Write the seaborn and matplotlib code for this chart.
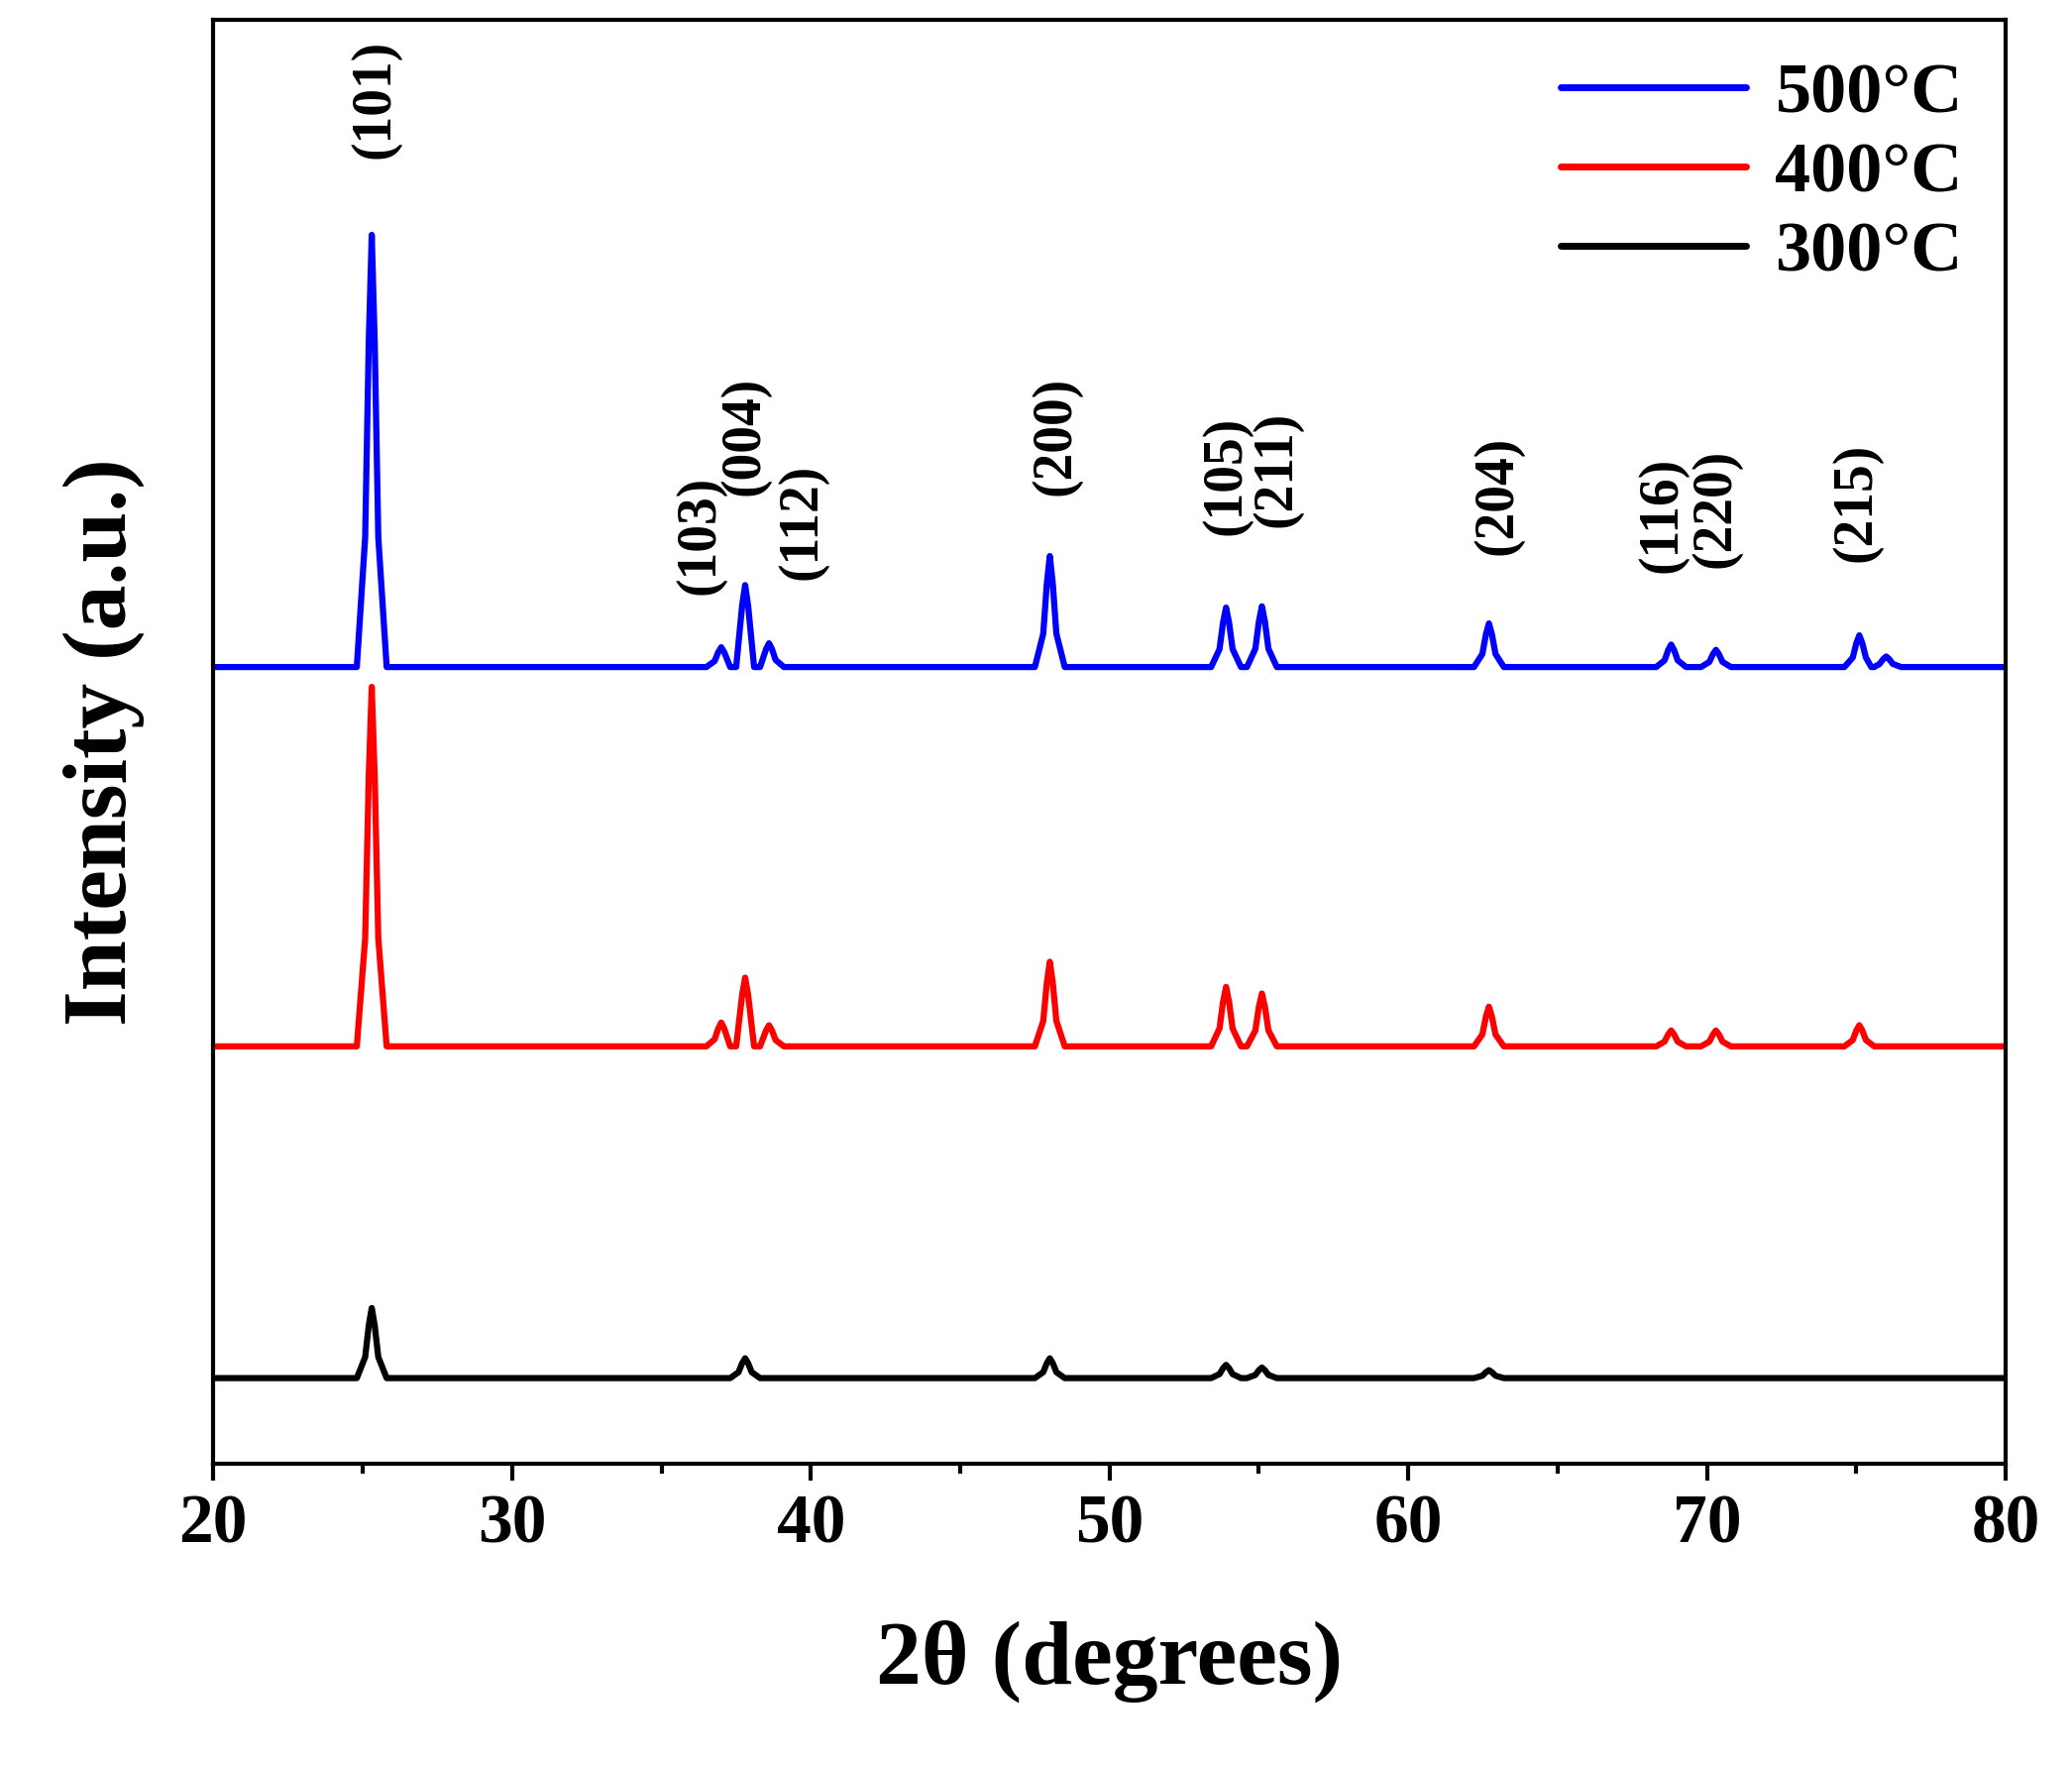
import matplotlib
matplotlib.use("Agg")
import matplotlib.pyplot as plt
import seaborn as sns
import pandas as pd

# peak positions (2theta) and heights above baseline for each sample
peaks_500 = [25.3, 37.0, 37.8, 38.6, 48.0, 53.9, 55.1, 62.7, 68.8, 70.3, 75.1, 76.0]
heights_500 = [327, 15, 62, 18, 84, 45, 46, 33, 17, 13, 24, 8]
base_500 = 603
peaks_400 = [25.3, 37.0, 37.8, 38.6, 48.0, 53.9, 55.1, 62.7, 68.8, 70.3, 75.1]
heights_400 = [272, 18, 52, 16, 64, 45, 40, 30, 12, 12, 16]
base_400 = 316
peaks_300 = [25.3, 37.8, 48.0, 53.9, 55.1, 62.7]
heights_300 = [53, 15, 15, 10, 8, 6]
base_300 = 65

labels = ["(101)", "(103)", "(004)", "(112)", "(200)", "(105)", "(211)", "(204)", "(116)", "(220)", "(215)"]
label_x = [25.4, 36.3, 37.8, 39.7, 48.2, 53.9, 55.6, 63.0, 68.5, 70.3, 75.0]
label_y = [1033, 703, 778, 713, 778, 748, 753, 733, 718, 723, 728]

def profile(peaks, heights, base):
    pts = [(20.0, base)]
    offs = [(-0.5, 0.0), (-0.22, 0.3), (-0.1, 0.75), (0.0, 1.0), (0.1, 0.75), (0.22, 0.3), (0.5, 0.0)]
    for p, h in zip(peaks, heights):
        for dx, f in offs:
            pts.append((p + dx, base + h * f))
    pts.append((80.0, base))
    pts.sort()
    return pd.DataFrame(pts, columns=["x", "y"])

sns.set_style("ticks")
plt.rcParams["font.family"] = ["Liberation Serif", "DejaVu Serif"]
plt.rcParams["font.weight"] = "bold"
plt.rcParams["text.color"] = "black"
plt.rcParams["axes.labelcolor"] = "black"
plt.rcParams["xtick.color"] = "black"
plt.rcParams["axes.edgecolor"] = "black"

fig = plt.figure(figsize=(20.91, 17.82), dpi=100)
ax = fig.add_axes([0.103, 0.171, 0.865, 0.818])

for name, pk, hh, b, c in [("500°C", peaks_500, heights_500, base_500, "#0000ff"),
                           ("400°C", peaks_400, heights_400, base_400, "#ff0000"),
                           ("300°C", peaks_300, heights_300, base_300, "#000000")]:
    d = profile(pk, hh, b)
    sns.lineplot(data=d, x="x", y="y", ax=ax, color=c, lw=4.5, label=name, sort=False)

for t, x, y in zip(labels, label_x, label_y):
    ax.text(x, y, t, rotation=90, ha="center", va="center", fontsize=40, fontweight="bold")

ax.set_xlim(20, 80)
ax.set_ylim(0, 1093)
ax.set_yticks([])
ax.set_xticks(range(20, 81, 10))
ax.set_xticks(range(25, 80, 10), minor=True)
ax.tick_params(axis="x", which="major", labelsize=50, width=3, length=12, direction="out", pad=10)
ax.tick_params(axis="x", which="minor", width=3, length=7, direction="out")
for lab in ax.get_xticklabels():
    lab.set_fontweight("bold")
for s in ax.spines.values():
    s.set_linewidth(3)
ax.set_xlabel("2θ (degrees)", fontsize=66, fontweight="bold", labelpad=45)
ax.set_ylabel("Intensity (a.u.)", fontsize=66, fontweight="bold", labelpad=50)
leg = ax.legend(loc="upper right", frameon=False, fontsize=52, handlelength=2.6,
                handletextpad=0.4, borderaxespad=0.2, labelspacing=0.2)
for line in leg.get_lines():
    line.set_linewidth(5)
fig.savefig("out.png", dpi=100)
